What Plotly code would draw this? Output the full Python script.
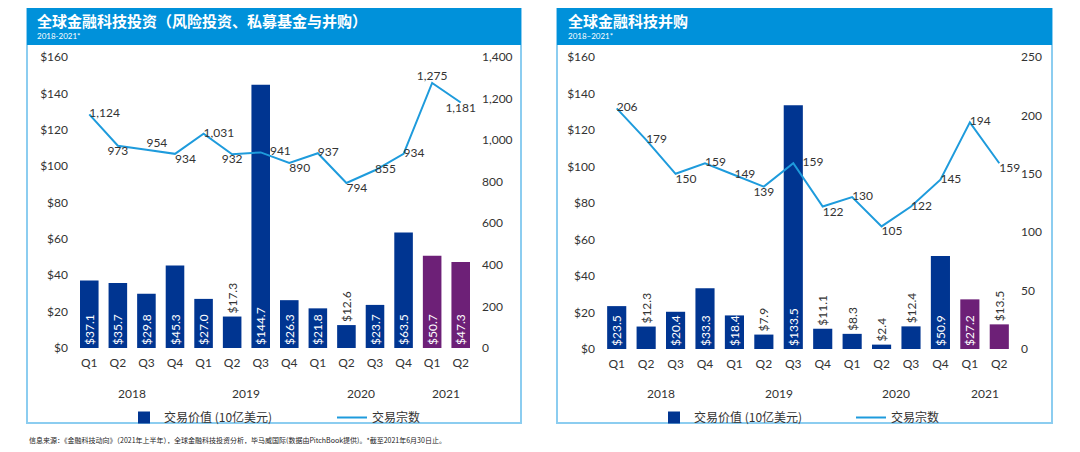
import plotly.graph_objects as go

# ---- data ----
periods = [
    "2018 Q1", "2018 Q2", "2018 Q3", "2018 Q4",
    "2019 Q1", "2019 Q2", "2019 Q3", "2019 Q4",
    "2020 Q1", "2020 Q2", "2020 Q3", "2020 Q4",
    "2021 Q1", "2021 Q2",
]
quarter_labels = ["Q1", "Q2", "Q3", "Q4"] * 3 + ["Q1", "Q2"]
year_labels = ["2018", "2019", "2020", "2021"]
year_centers = [1.5, 5.5, 9.5, 12.5]

invest_value = [37.1, 35.7, 29.8, 45.3, 27.0, 17.3, 144.7, 26.3, 21.8, 12.6, 23.7, 63.5, 50.7, 47.3]
invest_count = [1124, 973, 954, 934, 1031, 932, 941, 890, 937, 794, 855, 934, 1275, 1181]

ma_value = [23.5, 12.3, 20.4, 33.3, 18.4, 7.9, 133.5, 11.1, 8.3, 2.4, 12.4, 50.9, 27.2, 13.5]
ma_count = [206, 179, 150, 159, 149, 139, 159, 122, 130, 105, 122, 145, 194, 159]

# ---- styles ----
NAVY = "#003591"
PURPLE = "#6D2077"
LINE = "#1E9BDC"
HEADER = "#0091DA"
BORDER = "#8CCDF0"
TXT = "#333333"
FONT = "Lato, 'Noto Sans CJK SC', sans-serif"
CJK = "'Noto Sans CJK SC', sans-serif"

bar_colors = [NAVY] * 12 + [PURPLE] * 2

invest_bar_pos = ["inside"] * 14
invest_bar_pos[5] = "outside"
invest_bar_pos[9] = "outside"
ma_bar_pos = ["inside"] * 14
for i in (1, 5, 7, 8, 9, 10, 13):
    ma_bar_pos[i] = "outside"

invest_line_pos = [
    "middle right", "bottom center", "top right", "bottom right",
    "middle right", "bottom center", "middle right", "bottom right",
    "middle right", "bottom right", "middle right", "middle right",
    "top center", "bottom center",
]
ma_line_pos = [
    "middle right", "middle right", "bottom right", "middle right",
    "middle right", "bottom center", "middle right", "bottom right",
    "middle right", "bottom right", "middle right", "middle right",
    "middle right", "bottom right",
]
# the count label next to the tall 2019 Q3 bar sits clear of the bar
pad_after_bar = 6

# the page body has an 8px margin, so the figure sits 8px in from the window corner
OFF = 8
W, H = 1080 - 2 * OFF, 452 - 2 * OFF


def px_x(v):
    return (v - OFF) / W


def px_y(v):
    return 1 - (v - OFF) / H


fig = go.Figure()


def add_panel(value, count, bar_pos, line_pos, xa, ya, ya2, legend):
    labels = [f"{c:,}" for c in count]
    labels[pad_after_bar] = "\u00a0\u00a0\u00a0" + labels[pad_after_bar]
    fig.add_trace(
        go.Bar(
            x=periods,
            y=value,
            name="交易价值 (10亿美元)",
            marker=dict(color=bar_colors, line=dict(width=0)),
            text=[f"${v:.1f}" for v in value],
            textposition=bar_pos,
            textangle=-90,
            insidetextanchor="start",
            constraintext="none",
            insidetextfont=dict(color="white", size=12, family=FONT),
            outsidetextfont=dict(color=TXT, size=12, family=FONT),
            cliponaxis=False,
            xaxis=xa,
            yaxis=ya,
            legend=legend,
        )
    )
    fig.add_trace(
        go.Scatter(
            x=periods,
            y=count,
            name="交易宗数",
            mode="lines+text",
            line=dict(color=LINE, width=2),
            text=labels,
            textposition=line_pos,
            textfont=dict(color=TXT, size=12, family=FONT),
            cliponaxis=False,
            xaxis=xa,
            yaxis=ya2,
            legend=legend,
        )
    )


add_panel(invest_value, invest_count, invest_bar_pos, invest_line_pos, "x", "y", "y2", "legend")
add_panel(ma_value, ma_count, ma_bar_pos, ma_line_pos, "x2", "y3", "y4", "legend2")

xcommon = dict(
    type="category",
    tickmode="array",
    tickvals=periods,
    ticktext=quarter_labels,
    showgrid=False,
    showline=False,
    zeroline=False,
    ticks="",
    tickfont=dict(size=12, color=TXT, family=FONT),
    ticklabelstandoff=6,
    range=[-0.5, 13.5],
)
ycommon = dict(
    showgrid=False,
    showline=False,
    zeroline=False,
    ticks="",
    tickfont=dict(size=12, color=TXT, family=FONT),
    ticklabelstandoff=6,
)

fig.update_layout(
    width=W,
    height=H,
    margin=dict(l=0, r=0, t=0, b=0, autoexpand=False),
    paper_bgcolor="white",
    plot_bgcolor="white",
    bargap=0.35,
    showlegend=True,
    xaxis=dict(xcommon, domain=[px_x(75), px_x(475)], anchor="y"),
    yaxis=dict(ycommon, domain=[px_y(348), px_y(57)], range=[0, 160], dtick=20,
               tickprefix="$", anchor="x"),
    yaxis2=dict(ycommon, overlaying="y", side="right", range=[0, 1400], dtick=200,
                tickformat=",", anchor="x"),
    xaxis2=dict(xcommon, domain=[px_x(602), px_x(1014)], anchor="y3"),
    yaxis3=dict(ycommon, domain=[px_y(349), px_y(57)], range=[0, 160], dtick=20,
                tickprefix="$", anchor="x2"),
    yaxis4=dict(ycommon, overlaying="y3", side="right", range=[0, 250], dtick=50,
                anchor="x2"),
    legend=dict(
        orientation="h", x=px_x(124), y=px_y(403), xanchor="left", yanchor="top",
        entrywidth=163, entrywidthmode="pixels",
        font=dict(size=12, color=TXT, family=CJK), bgcolor="rgba(0,0,0,0)",
    ),
    legend2=dict(
        orientation="h", x=px_x(654), y=px_y(403), xanchor="left", yanchor="top",
        entrywidth=152, entrywidthmode="pixels",
        font=dict(size=12, color=TXT, family=CJK), bgcolor="rgba(0,0,0,0)",
    ),
)

# panel frames and header bands
for x0, x1 in ((27, 521), (557, 1052)):
    fig.add_shape(type="rect", xref="paper", yref="paper",
                  x0=px_x(x0), x1=px_x(x1), y0=px_y(423), y1=px_y(8),
                  line=dict(color=BORDER, width=2), fillcolor="rgba(0,0,0,0)", layer="below")
    fig.add_shape(type="rect", xref="paper", yref="paper",
                  x0=px_x(x0), x1=px_x(x1), y0=px_y(45), y1=px_y(8),
                  line=dict(width=0), fillcolor=HEADER, layer="below")

headers = [
    (35, "全球金融科技投资（风险投资、私募基金与并购）", "2018-2021*"),
    (566, "全球金融科技并购", "2018–2021*"),
]
for x0, title, sub in headers:
    fig.add_annotation(xref="paper", yref="paper", x=px_x(x0), y=px_y(20),
                       text=f"<b>{title}</b>", showarrow=False, xanchor="left", yanchor="middle",
                       font=dict(size=15, color="white", family=CJK))
    fig.add_annotation(xref="paper", yref="paper", x=px_x(x0), y=px_y(36),
                       text=sub, showarrow=False, xanchor="left", yanchor="middle",
                       font=dict(size=8, color="white", family=FONT))

# year labels under quarter ticks
for xa in ("x", "x2"):
    for yc, yl in zip(year_centers, year_labels):
        fig.add_annotation(xref=xa, yref="paper", x=yc, y=px_y(393),
                           text=yl, showarrow=False, yanchor="middle",
                           font=dict(size=12, color=TXT, family=FONT))

fig.add_annotation(
    xref="paper", yref="paper", x=px_x(27), y=px_y(440), xanchor="left", yanchor="middle",
    text="信息来源：《金融科技动向》（2021年上半年），全球金融科技投资分析，毕马威国际(数据由PitchBook提供)。*截至2021年6月30日止。",
    showarrow=False, font=dict(size=7, color="#222222", family=CJK),
)

fig.write_html("out.html")
